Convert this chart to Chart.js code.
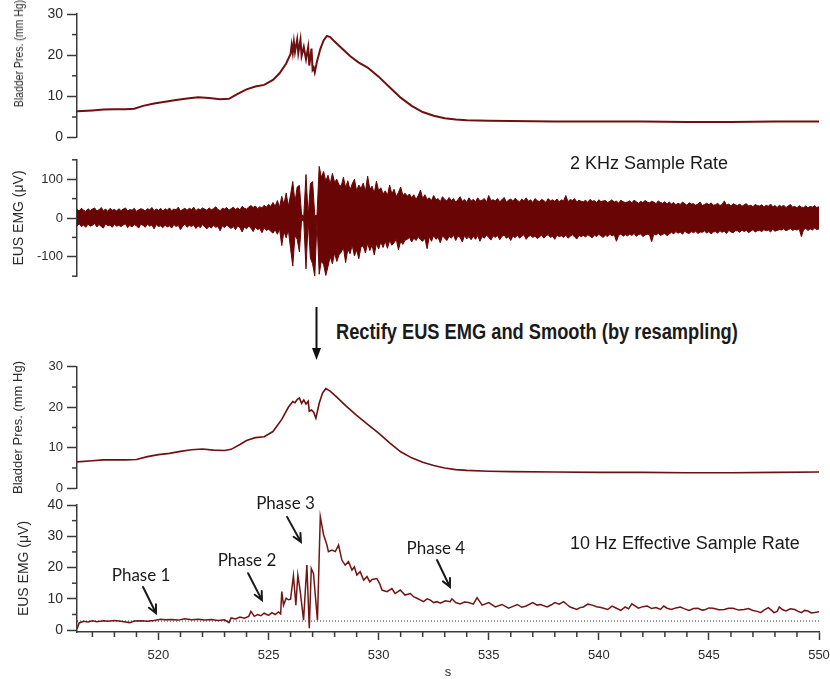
<!DOCTYPE html>
<html>
<head>
<meta charset="utf-8">
<script src="https://cdn.jsdelivr.net/npm/chart.js@4.4.0/dist/chart.umd.min.js"></script>
<style>
  body { margin: 0; background: #fff; width: 830px; height: 679px; position: relative; overflow: hidden;
         font-family: "Liberation Sans", Arial, sans-serif; }
  canvas { position: absolute; left: 0; }
  .note { position: absolute; white-space: nowrap; color: #1a1a1a; }
</style>
</head>
<body>
<canvas id="pres1" width="830" height="150" style="top:0"></canvas>
<canvas id="emgRaw" width="830" height="140" style="top:148px"></canvas>
<canvas id="pres2" width="830" height="145" style="top:355px"></canvas>
<canvas id="emgRect" width="830" height="194" style="top:485px"></canvas>

<div class="note" style="left:-42px;top:49px;width:122px;text-align:center;font-size:12.5px;line-height:14px;color:#2b2b2b;transform:rotate(-90deg) scaleX(0.84)">Bladder Pres. (mm Hg)</div>
<div class="note" style="left:570px;top:153px;font-size:18px;line-height:20px">2 KHz Sample Rate</div>
<div class="note" style="left:336px;top:320px;font-size:22px;line-height:24px;font-weight:bold;transform:scaleX(0.83);transform-origin:0 0">Rectify EUS EMG and Smooth (by resampling)</div>
<div class="note" style="left:570px;top:533px;font-size:18px;line-height:20px">10 Hz Effective Sample Rate</div>
<svg style="position:absolute;left:306px;top:304px" width="20" height="60">
  <line x1="10.5" y1="3" x2="10.5" y2="46" stroke="#111" stroke-width="2"/>
  <polygon points="6,44 15,44 10.5,56" fill="#111"/>
</svg>

<script>
// time window shown on every panel (s)
const tMin = 516.3;
const tMax = 550;

// bladder pressure, 2 kHz recording (mm Hg)
const bladderRawT = [516.3, 517.0, 517.5, 518.0, 518.5, 518.9, 519.3, 519.8, 520.3, 520.8, 521.3, 521.8, 522.3, 522.8,
  523.2, 523.6, 524.0, 524.4, 524.8, 525.2, 525.5, 525.8, 526.0, 526.05, 526.1, 526.15, 526.2, 526.3, 526.35, 526.45,
  526.5, 526.6, 526.7, 526.8, 526.85, 526.95, 527.0, 527.05, 527.1, 527.2, 527.35, 527.5, 527.65, 527.8, 528.0, 528.3,
  528.7, 529.1, 529.5, 530.0, 530.5, 531.0, 531.5, 532.0, 532.5, 533.0, 533.5, 534.0, 535, 536, 538, 540, 542, 544,
  546, 548, 550];
const bladderRaw = [6.4, 6.6, 6.8, 6.9, 6.9, 7.0, 7.7, 8.3, 8.7, 9.1, 9.5, 9.8, 9.6, 9.3,
  9.4, 10.6, 11.7, 12.4, 12.8, 14.0, 15.6, 18.0, 20.3, 22.5, 20.6, 23.2, 20.8, 23.8, 20.5, 23.8,
  19.8, 22.0, 19.0, 22.0, 17.5, 21.6, 16.5, 17.0, 15.8, 18.5, 21.5, 23.6, 24.7, 24.4, 23.3, 21.8,
  19.8, 18.2, 17.0, 14.8, 12.2, 9.7, 7.7, 6.2, 5.3, 4.7, 4.4, 4.2, 4.1, 4.0, 3.9, 3.9, 3.9, 3.8,
  3.8, 3.9, 3.9];

// EUS EMG, 2 kHz: upper / lower envelope every 0.1 s from 516.3 s (uV)
const emgStart = 516.3;
const emgStep = 0.1;
const emgUpper = [
  22, 18, 25, 20, 17, 24, 19, 23, 26, 18,
  21, 27, 19, 23, 17, 25, 20, 22, 18, 24,
  19, 23, 26, 18, 22, 20, 25, 17, 21, 24,
  22, 18, 24, 21, 27, 19, 23, 20, 25, 18,
  24, 20, 26, 19, 23, 21, 28, 18, 22, 25,
  20, 25, 22, 28, 19, 24, 21, 26, 23, 20,
  26, 21, 24, 29, 22, 19, 25, 23, 27, 20,
  24, 28, 22, 26, 21, 30, 25, 23, 28, 32,
  27, 31, 24, 29, 26, 33, 28, 35, 30, 40,
  30, 45, 28, 56, 35, 64, 30, 60, 94, 40,
  80, 84, 8, 6, 112, 5, 88, 94, 6, 7,
  133, 105, 120, 95, 110, 88, 115, 92, 100, 85,
  82, 105, 78, 96, 72, 88, 100, 70, 85, 76,
  90, 68, 108, 74, 82, 64, 95, 70, 78, 62,
  70, 58, 85, 62, 74, 55, 66, 80, 58, 64,
  56, 62, 52, 60, 48, 58, 72, 50, 60, 48,
  52, 45, 58, 47, 50, 42, 55, 48, 44, 53,
  45, 50, 41, 47, 55, 43, 48, 40, 52, 44,
  48, 42, 52, 44, 46, 50, 41, 58, 45, 47,
  44, 50, 42, 47, 53, 41, 46, 49, 43, 51,
  46, 41, 49, 44, 52, 43, 47, 40, 50, 45,
  42, 48, 45, 40, 50, 44, 47, 43, 49, 41,
  47, 44, 58, 42, 48, 45, 50, 41, 46, 43,
  42, 46, 40, 48, 43, 45, 39, 47, 42, 44,
  45, 40, 43, 47, 41, 44, 38, 46, 42, 40,
  41, 44, 39, 46, 42, 38, 43, 40, 45, 41,
  39, 43, 41, 37, 44, 40, 38, 42, 36, 41,
  36, 40, 34, 38, 35, 41, 37, 33, 39, 36,
  37, 33, 36, 41, 32, 35, 38, 34, 39, 33,
  34, 38, 32, 35, 44, 33, 36, 31, 37, 34,
  32, 36, 30, 34, 37, 31, 33, 29, 35, 32,
  31, 34, 28, 33, 30, 36, 29, 32, 27, 33,
  29, 33, 27, 31, 35, 28, 30, 26, 32, 28,
  27, 31, 26, 30, 28, 32, 27, 29];
const emgLower = [
  -20, -15, -22, -18, -24, -16, -21, -19, -14, -23,
  -17, -22, -26, -15, -20, -18, -24, -16, -21, -19,
  -22, -18, -15, -25, -19, -23, -17, -20, -26, -16,
  -19, -24, -16, -21, -18, -28, -17, -22, -20, -25,
  -18, -23, -20, -26, -17, -22, -19, -30, -21, -16,
  -24, -19, -22, -18, -27, -20, -25, -17, -23, -28,
  -21, -26, -19, -24, -22, -33, -20, -25, -18, -23,
  -27, -22, -30, -20, -25, -36, -23, -28, -21, -26,
  -35, -24, -30, -27, -38, -25, -32, -29, -34, -39,
  -30, -42, -28, -71, -35, -51, -30, -79, -124, -45,
  -55, -87, -6, -8, -131, -6, -103, -118, -150, -8,
  -145, -110, -120, -148, -125, -100, -118, -90, -112, -95,
  -88, -76, -115, -80, -92, -70, -98, -82, -105, -74,
  -72, -90, -65, -84, -70, -95, -66, -80, -62, -76,
  -60, -78, -58, -70, -64, -55, -82, -60, -68, -57,
  -55, -50, -62, -52, -58, -48, -56, -60, -52, -79,
  -48, -60, -45, -55, -50, -64, -46, -52, -58, -47,
  -52, -44, -58, -46, -50, -62, -45, -54, -48, -56,
  -47, -55, -45, -60, -48, -52, -44, -50, -57, -46,
  -50, -45, -56, -47, -44, -52, -48, -58, -46, -51,
  -44, -52, -47, -43, -55, -48, -45, -50, -46, -53,
  -49, -44, -52, -46, -43, -50, -47, -55, -44, -48,
  -46, -50, -44, -52, -47, -43, -49, -54, -45, -48,
  -45, -49, -43, -47, -51, -44, -48, -42, -46, -50,
  -44, -48, -42, -46, -43, -60, -45, -41, -47, -43,
  -46, -42, -45, -40, -47, -43, -41, -48, -44, -42,
  -43, -61, -41, -44, -39, -45, -42, -40, -46, -41,
  -37, -41, -35, -39, -36, -42, -34, -38, -40, -35,
  -38, -34, -40, -36, -37, -33, -39, -35, -41, -36,
  -35, -39, -33, -37, -34, -40, -32, -36, -38, -33,
  -33, -37, -31, -35, -32, -38, -34, -30, -36, -33,
  -32, -35, -30, -33, -31, -36, -29, -34, -32, -30,
  -31, -28, -33, -30, -27, -32, -29, -31, -28, -48,
  -30, -27, -32, -28, -31, -26, -30, -28];

// bladder pressure after resampling (mm Hg)
const bladderSmoothT = [516.3, 517, 517.5, 518, 518.5, 519, 519.5, 520, 520.5, 521, 521.5, 522, 522.5, 523, 523.3,
  523.7, 524, 524.4, 524.8, 525.2, 525.6, 525.9, 526.1, 526.2, 526.3, 526.4, 526.5, 526.6, 526.7, 526.8,
  526.85, 526.95, 527.05, 527.15, 527.3, 527.45, 527.6, 527.8, 528.1, 528.5, 529, 529.5, 530, 530.5, 531,
  531.5, 532, 532.5, 533, 533.5, 534, 535, 536, 538, 540, 542, 544, 546, 548, 550];
const bladderSmooth = [6.5, 6.8, 7.0, 7.0, 7.0, 7.1, 7.8, 8.3, 8.6, 9.1, 9.5, 9.7, 9.4, 9.3, 9.6,
  10.8, 11.8, 12.5, 12.7, 14.0, 17.0, 20.0, 21.4, 21.1, 21.9, 22.3, 21.0, 21.8, 20.8, 21.5,
  19.0, 19.3, 18.8, 17.3, 21.0, 23.5, 24.6, 24.0, 22.5, 20.4, 18.0, 15.8, 13.6, 11.2, 9.0,
  7.5, 6.4, 5.6, 5.0, 4.6, 4.4, 4.2, 4.1, 4.0, 3.9, 3.9, 3.8, 3.8, 3.9, 4.0];

// rectified + smoothed EUS EMG, [s, uV]
const rectified = [
  [516.3, 0.4], [516.4, 2.3], [516.6, 2.8], [516.8, 2.6], [517.0, 3.0], [517.2, 2.7], [517.5, 3.0], [517.7, 2.8],
  [518.0, 3.1], [518.3, 2.8], [518.5, 2.6], [518.7, 2.4], [518.9, 2.9], [519.2, 3.0], [519.5, 2.8], [519.8, 3.1],
  [520.1, 3.5], [520.3, 3.3], [520.6, 3.4], [520.9, 3.2], [521.2, 3.6], [521.5, 3.3], [521.8, 3.5], [522.1, 3.2],
  [522.4, 3.4], [522.7, 3.1], [523.0, 3.3], [523.2, 2.4], [523.3, 3.9], [523.5, 3.6], [523.7, 4.2], [523.9, 3.8],
  [524.1, 4.4], [524.2, 6.0], [524.35, 4.4], [524.5, 5.0], [524.65, 4.6], [524.8, 5.4], [525.0, 4.7], [525.15, 5.6],
  [525.3, 5.0], [525.45, 5.8], [525.55, 5.2], [525.6, 12.3], [525.68, 8.0], [525.8, 10.2], [525.9, 9.7], [526.0, 9.9],
  [526.13, 17.4], [526.24, 8.0], [526.33, 17.6], [526.44, 12.3], [526.59, 3.2], [526.74, 20.8], [526.85, 0.6],
  [526.94, 19.7], [527.04, 18.1], [527.22, 3.2], [527.35, 36.3], [527.42, 33.6], [527.5, 30.5], [527.65, 27.2],
  [527.72, 25.1], [527.88, 25.6], [528.03, 25.1], [528.18, 27.2], [528.33, 22.4], [528.48, 20.8], [528.63, 21.9],
  [528.79, 19.2], [528.9, 20.2], [529.01, 17.6], [529.16, 18.7], [529.32, 16.0], [529.47, 17.1], [529.6, 15.4],
  [529.7, 16.2], [529.92, 16.5], [530.05, 14.8], [530.15, 12.8], [530.38, 12.3], [530.6, 13.3], [530.75, 11.7],
  [530.98, 12.8], [531.2, 11.2], [531.44, 11.7], [531.6, 10.6], [531.74, 10.2], [532.04, 9.1], [532.2, 10.0],
  [532.35, 9.6], [532.5, 8.8], [532.65, 9.1], [532.8, 8.6], [533.03, 9.4], [533.25, 9.1], [533.33, 10.0],
  [533.5, 8.8], [533.7, 8.4], [533.9, 9.0], [534.09, 8.8], [534.3, 8.3], [534.47, 10.4], [534.7, 8.0], [535.0, 8.8],
  [535.3, 7.4], [535.6, 8.2], [535.9, 7.0], [536.1, 7.6], [536.3, 8.2], [536.5, 7.3], [536.7, 7.7], [537.0, 8.8],
  [537.2, 8.0], [537.35, 8.2], [537.65, 7.4], [537.85, 8.1], [538.0, 8.8], [538.2, 8.3], [538.4, 9.1], [538.55, 8.2],
  [538.7, 7.4], [539.0, 6.6], [539.15, 7.2], [539.3, 7.4], [539.5, 8.3], [539.7, 8.0], [539.9, 7.5], [540.1, 7.2],
  [540.4, 6.6], [540.6, 7.7], [540.8, 7.0], [541.0, 6.3], [541.2, 7.4], [541.35, 6.8], [541.5, 8.4], [541.8, 7.0],
  [542.0, 7.5], [542.2, 7.7], [542.4, 6.9], [542.6, 7.2], [542.8, 6.6], [542.95, 7.7], [543.1, 7.0], [543.3, 6.6],
  [543.5, 7.1], [543.7, 7.4], [543.9, 6.8], [544.1, 6.3], [544.3, 6.9], [544.5, 7.0], [544.7, 6.4], [544.85, 6.6],
  [545.0, 7.1], [545.2, 7.0], [545.45, 6.5], [545.7, 6.6], [545.9, 7.0], [546.1, 7.0], [546.35, 6.4], [546.6, 6.6],
  [546.8, 6.9], [547.0, 6.3], [547.2, 6.0], [547.35, 5.6], [547.5, 6.4], [547.7, 7.2], [547.85, 6.3], [547.95, 5.6],
  [548.1, 6.0], [548.2, 7.4], [548.35, 6.5], [548.5, 6.1], [548.7, 6.8], [548.9, 6.6], [549.05, 6.0], [549.2, 5.6],
  [549.35, 6.3], [549.5, 6.1], [549.65, 5.5], [549.8, 5.6], [550.0, 5.9]];
const emgBaseline = 2.9;

// phase annotations on the bottom panel, in data units [s, uV]
const phaseNames = ['Phase 1', 'Phase 2', 'Phase 3', 'Phase 4'];
const phaseLabelAt = [[519.21, 17.6], [524.02, 22.1], [525.77, 40.6], [532.6, 26.2]];
const phaseArrowFrom = [[519.3, 13.8], [524.07, 18.2], [525.84, 36.2], [532.65, 22.4]];
const phaseArrowTo = [[519.89, 5.4], [524.7, 9.6], [526.47, 28.2], [533.24, 13.8]];

const axisColor = '#3a3a3a';
const textColor = '#2b2b2b';
const traceColor = '#6e1010';
const arial = '"Liberation Sans", Arial, sans-serif';

const isMajor = (v, every) => Math.abs(v / every - Math.round(v / every)) < 1e-6;

// short ticks between the labelled ones
const minorTicks = axes => ({
  id: 'minorTicks',
  afterDraw(chart) {
    const ctx = chart.ctx;
    ctx.save();
    ctx.strokeStyle = axisColor;
    ctx.lineWidth = 1.5;
    Object.entries(axes).forEach(([id, cfg]) => {
      const s = chart.scales[id];
      s.ticks.forEach((t, i) => {
        if (isMajor(t.value, cfg.major)) return;
        const p = s.getPixelForTick(i);
        ctx.beginPath();
        if (s.isHorizontal()) {
          ctx.moveTo(p, s.top);
          ctx.lineTo(p, s.top + cfg.len);
        } else {
          ctx.moveTo(s.right - cfg.len, p);
          ctx.lineTo(s.right, p);
        }
        ctx.stroke();
      });
    });
    ctx.restore();
  }
});

const yAxis = o => ({
  min: o.min,
  max: o.max,
  afterFit: s => { s.width = 77; },
  border: { display: true, color: axisColor, width: 1.5 },
  grid: {
    drawOnChartArea: false, drawTicks: true, tickLength: 10, tickWidth: 1.5,
    tickColor: c => (c.tick && isMajor(c.tick.value, o.major)) ? axisColor : 'rgba(0,0,0,0)'
  },
  ticks: {
    stepSize: o.step, includeBounds: false, autoSkip: false, padding: 4, color: textColor,
    font: o.tickFont, callback: v => isMajor(v, o.major) ? String(v) : ''
  },
  title: {
    display: !!o.title, text: o.title || '', color: textColor, font: o.titleFont,
    padding: { top: o.titlePad, bottom: 0 }
  }
});

const hiddenX = { type: 'linear', min: tMin, max: tMax, display: false };

const baseOptions = (padding, scales) => ({
  responsive: false,
  animation: false,
  devicePixelRatio: 1,
  layout: { padding },
  plugins: { legend: { display: false }, tooltip: { enabled: false } },
  elements: { point: { radius: 0 }, line: { tension: 0 } },
  scales
});

// panel 1: bladder pressure, raw (axis title is the rotated note above)
new Chart(document.getElementById('pres1'), {
  type: 'line',
  data: {
    datasets: [{
      data: bladderRawT.map((t, i) => ({ x: t, y: bladderRaw[i] })),
      borderColor: traceColor, borderWidth: 2
    }]
  },
  options: baseOptions({ left: 0, right: 11, top: 14, bottom: 10 }, {
    x: hiddenX,
    y: yAxis({ min: 0, max: 30, step: 5, major: 10, tickFont: { family: arial, size: 14 } })
  }),
  plugins: [minorTicks({ y: { major: 10, len: 5 } })]
});

// panel 2: EUS EMG, raw (filled between envelopes)
new Chart(document.getElementById('emgRaw'), {
  type: 'line',
  data: {
    datasets: [{
      data: emgUpper.map((v, i) => ({ x: emgStart + i * emgStep, y: v })),
      borderColor: '#6a0505', borderWidth: 1, backgroundColor: '#6a0505', fill: '+1'
    }, {
      data: emgLower.map((v, i) => ({ x: emgStart + i * emgStep, y: v })),
      borderColor: '#6a0505', borderWidth: 1, fill: false
    }]
  },
  options: baseOptions({ left: 0, right: 11, top: 7, bottom: 9 }, {
    x: hiddenX,
    y: yAxis({ min: -150, max: 150, step: 50, major: 100, title: 'EUS EMG (\u03bcV)',
      tickFont: { family: arial, size: 13 }, titleFont: { family: arial, size: 14 }, titlePad: 11 })
  }),
  plugins: [minorTicks({ y: { major: 100, len: 5 } })]
});

// panel 3: bladder pressure, resampled
new Chart(document.getElementById('pres2'), {
  type: 'line',
  data: {
    datasets: [{
      data: bladderSmoothT.map((t, i) => ({ x: t, y: bladderSmooth[i] })),
      borderColor: traceColor, borderWidth: 1.6
    }]
  },
  options: baseOptions({ left: 0, right: 11, top: 8, bottom: 8 }, {
    x: hiddenX,
    y: yAxis({ min: 0, max: 30, step: 5, major: 10, title: 'Bladder Pres. (mm Hg)',
      tickFont: { family: arial, size: 13 }, titleFont: { family: arial, size: 13 }, titlePad: 11 })
  }),
  plugins: [minorTicks({ y: { major: 10, len: 5 } })]
});

// phase labels and arrows
const phaseNotes = {
  id: 'phaseNotes',
  afterDatasetsDraw(chart) {
    const { ctx, scales: { x, y } } = chart;
    ctx.save();
    ctx.fillStyle = '#1a1a1a';
    ctx.strokeStyle = '#1a1a1a';
    ctx.font = '17px Lato, "Open Sans", sans-serif';
    ctx.textAlign = 'center';
    ctx.textBaseline = 'middle';
    ctx.lineWidth = 2;
    ctx.lineCap = 'round';
    phaseNames.forEach((name, i) => {
      ctx.fillText(name, x.getPixelForValue(phaseLabelAt[i][0]), y.getPixelForValue(phaseLabelAt[i][1]));
      const x0 = x.getPixelForValue(phaseArrowFrom[i][0]);
      const y0 = y.getPixelForValue(phaseArrowFrom[i][1]);
      const x1 = x.getPixelForValue(phaseArrowTo[i][0]);
      const y1 = y.getPixelForValue(phaseArrowTo[i][1]);
      const a = Math.atan2(y1 - y0, x1 - x0);
      ctx.beginPath();
      ctx.moveTo(x0, y0);
      ctx.lineTo(x1, y1);
      ctx.moveTo(x1 - 9 * Math.cos(a - 0.45), y1 - 9 * Math.sin(a - 0.45));
      ctx.lineTo(x1, y1);
      ctx.lineTo(x1 - 9 * Math.cos(a + 0.45), y1 - 9 * Math.sin(a + 0.45));
      ctx.stroke();
    });
    ctx.restore();
  }
};

// panel 4: rectified and smoothed EMG
new Chart(document.getElementById('emgRect'), {
  type: 'line',
  data: {
    datasets: [{
      data: rectified.map(p => ({ x: p[0], y: p[1] })),
      borderColor: '#741414', borderWidth: 1.5
    }, {
      data: [{ x: tMin, y: emgBaseline }, { x: tMax, y: emgBaseline }],
      borderColor: '#333', borderWidth: 1, borderDash: [1, 2]
    }]
  },
  options: baseOptions({ left: 0, right: 11, top: 20, bottom: 0 }, {
    x: {
      type: 'linear', min: tMin, max: tMax,
      afterFit: s => { s.height = 47; s.paddingLeft = 0; s.paddingRight = 0; },
      border: { display: true, color: axisColor, width: 1.5 },
      grid: {
        drawOnChartArea: false, drawTicks: true, tickLength: 8, tickWidth: 1.5,
        tickColor: c => (c.tick && isMajor(c.tick.value, 5)) ? axisColor : 'rgba(0,0,0,0)'
      },
      ticks: {
        stepSize: 1, includeBounds: false, autoSkip: false, maxRotation: 0, padding: 8, color: textColor,
        font: { family: arial, size: 13 }, callback: v => isMajor(v, 5) ? String(v) : ''
      },
      title: { display: true, text: 's', color: textColor, font: { family: arial, size: 13, lineHeight: 1 }, padding: { top: 0, bottom: 0 } }
    },
    y: yAxis({ min: -0.6, max: 40, step: 5, major: 10, title: 'EUS EMG (\u03bcV)',
      tickFont: { family: arial, size: 14 }, titleFont: { family: arial, size: 14 }, titlePad: 16 })
  }),
  plugins: [minorTicks({ x: { major: 5, len: 5 }, y: { major: 10, len: 5 } }), phaseNotes]
});
</script>
</body>
</html>
